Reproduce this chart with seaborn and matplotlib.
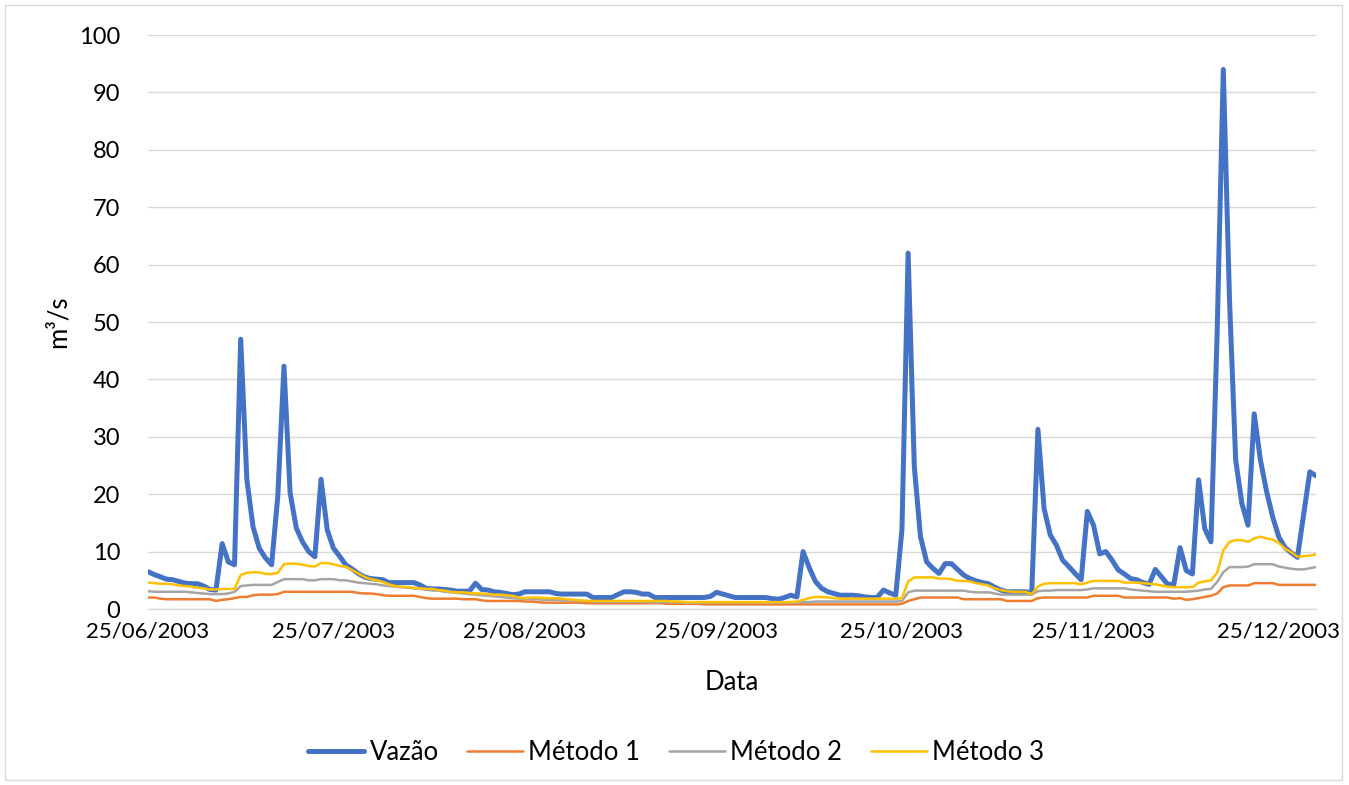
import matplotlib
matplotlib.use('Agg')
import matplotlib.pyplot as plt
import matplotlib.dates as mdates
from matplotlib.patches import Rectangle
from matplotlib.lines import Line2D
import seaborn as sns
import pandas as pd

start_date = '2003-06-25'
end_date = '2003-12-31'

series_names = ['Vazão', 'Método 1', 'Método 2', 'Método 3']

vazao = [
    6.5, 6.0, 5.6, 5.2, 5.1, 4.8, 4.5, 4.4, 4.4, 4.0,
    3.4, 3.3, 11.4, 8.2, 7.7, 47.0, 22.5, 14.3, 10.6, 8.9,
    7.7, 19.6, 42.3, 20.2, 14.1, 11.7, 10.0, 9.1, 22.6, 13.8,
    10.6, 9.2, 7.7, 7.0, 6.2, 5.6, 5.3, 5.2, 5.1, 4.6,
    4.6, 4.6, 4.6, 4.6, 4.2, 3.6, 3.5, 3.5, 3.4, 3.3,
    3.1, 3.1, 3.1, 4.5, 3.4, 3.3, 3.0, 2.9, 2.7, 2.5,
    2.6, 3.0, 3.0, 3.0, 3.0, 3.0, 2.7, 2.6, 2.6, 2.6,
    2.6, 2.6, 2.0, 2.0, 2.0, 2.0, 2.5, 3.0, 3.0, 2.9,
    2.6, 2.6, 2.0, 2.0, 2.0, 2.0, 2.0, 2.0, 2.0, 2.0,
    2.0, 2.2, 2.9, 2.6, 2.3, 2.0, 2.0, 2.0, 2.0, 2.0,
    2.0, 1.8, 1.7, 2.0, 2.4, 2.1, 10.0, 7.2, 4.8, 3.6,
    3.0, 2.7, 2.4, 2.4, 2.4, 2.3, 2.1, 2.0, 2.0, 3.3,
    2.8, 2.4, 13.8, 62.0, 24.8, 12.6, 8.2, 7.1, 6.2, 7.9,
    7.9, 6.9, 5.9, 5.3, 4.9, 4.6, 4.4, 3.8, 3.3, 3.0,
    3.0, 3.0, 3.0, 2.8, 31.3, 17.5, 12.9, 11.1, 8.5, 7.4,
    6.2, 5.1, 17.0, 14.6, 9.6, 10.0, 8.5, 6.8, 6.1, 5.3,
    5.1, 4.6, 4.3, 6.9, 5.6, 4.3, 4.3, 10.7, 6.7, 6.1,
    22.5, 14.0, 11.7, 48.0, 94.0, 54.0, 26.0, 18.4, 14.6, 34.0,
    26.0, 20.5, 16.0, 12.5, 10.7, 9.8, 9.0, 16.4, 23.9, 23.2,
]

metodo1 = [
    2.0, 2.0, 1.8, 1.7, 1.7, 1.7, 1.7, 1.7, 1.7, 1.7,
    1.7, 1.4, 1.6, 1.7, 1.9, 2.1, 2.1, 2.4, 2.5, 2.5,
    2.5, 2.6, 3.0, 3.0, 3.0, 3.0, 3.0, 3.0, 3.0, 3.0,
    3.0, 3.0, 3.0, 3.0, 2.8, 2.7, 2.7, 2.6, 2.4, 2.3,
    2.3, 2.3, 2.3, 2.3, 2.1, 1.9, 1.8, 1.8, 1.8, 1.8,
    1.8, 1.7, 1.7, 1.7, 1.5, 1.4, 1.4, 1.4, 1.4, 1.4,
    1.4, 1.3, 1.3, 1.2, 1.1, 1.1, 1.1, 1.1, 1.1, 1.1,
    1.1, 1.0, 1.0, 1.0, 1.0, 1.0, 1.0, 1.0, 1.0, 1.0,
    1.0, 1.0, 1.0, 1.0, 0.9, 0.9, 0.9, 0.9, 0.9, 0.9,
    0.8, 0.8, 0.8, 0.8, 0.8, 0.8, 0.8, 0.8, 0.8, 0.8,
    0.8, 0.8, 0.8, 0.8, 0.8, 0.8, 0.8, 0.8, 0.8, 0.8,
    0.8, 0.8, 0.8, 0.8, 0.8, 0.8, 0.8, 0.8, 0.8, 0.8,
    0.8, 0.8, 0.9, 1.4, 1.7, 2.0, 2.0, 2.0, 2.0, 2.0,
    2.0, 2.0, 1.7, 1.7, 1.7, 1.7, 1.7, 1.7, 1.7, 1.4,
    1.4, 1.4, 1.4, 1.4, 1.9, 2.0, 2.0, 2.0, 2.0, 2.0,
    2.0, 2.0, 2.0, 2.3, 2.3, 2.3, 2.3, 2.3, 2.0, 2.0,
    2.0, 2.0, 2.0, 2.0, 2.0, 2.0, 1.8, 1.9, 1.6, 1.7,
    1.9, 2.1, 2.3, 2.7, 3.8, 4.1, 4.1, 4.1, 4.1, 4.5,
    4.5, 4.5, 4.5, 4.2, 4.2, 4.2, 4.2, 4.2, 4.2, 4.2,
]

metodo2 = [
    3.1, 3.0, 3.0, 3.0, 3.0, 3.0, 3.0, 2.9, 2.8, 2.7,
    2.6, 2.6, 2.6, 2.7, 3.0, 4.0, 4.1, 4.2, 4.2, 4.2,
    4.2, 4.7, 5.2, 5.2, 5.2, 5.2, 5.0, 5.0, 5.2, 5.2,
    5.2, 5.0, 5.0, 4.8, 4.6, 4.5, 4.4, 4.3, 4.1, 4.0,
    3.9, 3.8, 3.7, 3.6, 3.5, 3.4, 3.3, 3.2, 3.0, 2.9,
    2.8, 2.7, 2.6, 2.5, 2.4, 2.3, 2.2, 2.1, 2.0, 1.9,
    1.8, 1.8, 1.7, 1.7, 1.6, 1.6, 1.6, 1.5, 1.5, 1.5,
    1.4, 1.4, 1.3, 1.3, 1.3, 1.3, 1.3, 1.3, 1.3, 1.3,
    1.3, 1.2, 1.2, 1.2, 1.2, 1.2, 1.2, 1.1, 1.1, 1.1,
    1.1, 1.1, 1.1, 1.1, 1.1, 1.1, 1.1, 1.1, 1.1, 1.1,
    1.1, 1.1, 1.1, 1.1, 1.1, 1.1, 1.2, 1.2, 1.3, 1.3,
    1.3, 1.3, 1.3, 1.3, 1.3, 1.3, 1.3, 1.3, 1.3, 1.3,
    1.3, 1.3, 1.4, 2.9, 3.2, 3.2, 3.2, 3.2, 3.2, 3.2,
    3.2, 3.2, 3.2, 3.0, 2.9, 2.9, 2.9, 2.7, 2.5, 2.5,
    2.5, 2.5, 2.5, 2.5, 3.1, 3.2, 3.2, 3.3, 3.3, 3.3,
    3.3, 3.3, 3.4, 3.6, 3.6, 3.6, 3.6, 3.6, 3.6, 3.4,
    3.3, 3.2, 3.1, 3.0, 3.0, 3.0, 3.0, 3.0, 3.0, 3.1,
    3.2, 3.4, 3.5, 4.7, 6.4, 7.3, 7.3, 7.3, 7.4, 7.8,
    7.8, 7.8, 7.8, 7.4, 7.2, 7.0, 6.9, 6.9, 7.1, 7.3,
]

metodo3 = [
    4.6, 4.5, 4.4, 4.4, 4.3, 4.1, 4.0, 3.9, 3.7, 3.6,
    3.4, 3.4, 3.5, 3.5, 3.5, 5.9, 6.3, 6.4, 6.4, 6.1,
    6.1, 6.3, 7.8, 7.9, 7.9, 7.7, 7.5, 7.4, 8.0, 8.0,
    7.8, 7.5, 7.4, 6.8, 6.2, 5.6, 5.2, 5.0, 4.7, 4.3,
    4.0, 3.9, 3.8, 3.7, 3.6, 3.5, 3.5, 3.3, 3.2, 3.0,
    2.9, 2.9, 2.8, 2.7, 2.7, 2.6, 2.5, 2.5, 2.4, 2.3,
    2.0, 1.9, 2.0, 2.0, 1.9, 1.9, 1.9, 1.8, 1.7, 1.6,
    1.5, 1.4, 1.4, 1.4, 1.4, 1.4, 1.4, 1.4, 1.4, 1.4,
    1.4, 1.4, 1.4, 1.4, 1.4, 1.3, 1.3, 1.2, 1.2, 1.2,
    1.2, 1.2, 1.2, 1.2, 1.2, 1.2, 1.2, 1.2, 1.2, 1.2,
    1.2, 1.2, 1.2, 1.2, 1.2, 1.3, 1.6, 1.9, 2.1, 2.1,
    2.0, 1.9, 1.8, 1.8, 1.8, 1.8, 1.8, 1.8, 1.8, 1.8,
    1.8, 1.8, 1.9, 4.8, 5.5, 5.5, 5.5, 5.5, 5.3, 5.3,
    5.2, 4.9, 4.9, 4.8, 4.5, 4.3, 4.1, 3.6, 3.3, 3.1,
    3.0, 3.0, 3.0, 2.6, 3.9, 4.4, 4.5, 4.5, 4.5, 4.5,
    4.5, 4.3, 4.6, 4.9, 4.9, 4.9, 4.9, 4.9, 4.6, 4.6,
    4.6, 4.5, 4.4, 4.3, 4.1, 3.9, 3.8, 3.8, 3.8, 3.8,
    4.6, 4.8, 5.0, 6.3, 10.2, 11.7, 12.0, 12.0, 11.7, 12.3,
    12.6, 12.3, 12.1, 11.5, 10.5, 9.9, 9.1, 9.2, 9.3, 9.5,
]

tick_dates = ['2003-06-25', '2003-07-25', '2003-08-25', '2003-09-25',
              '2003-10-25', '2003-11-25', '2003-12-25']
y_ticks = [0, 10, 20, 30, 40, 50, 60, 70, 80, 90, 100]

dates = pd.date_range(start_date, end_date, freq='D')
df = pd.DataFrame({'Data': dates, 'Vazão': vazao, 'Método 1': metodo1,
                   'Método 2': metodo2, 'Método 3': metodo3})

sns.set_theme(style='white')
plt.rcParams['font.family'] = ['Lato', 'DejaVu Sans']
plt.rcParams['text.color'] = 'black'

W, H = 1349, 785
fig = plt.figure(figsize=(W / 100, H / 100), dpi=100)
fig.patch.set_facecolor('white')
L, R, T, B = 148, 1316, 35, 609
ax = fig.add_axes([L / W, 1 - B / H, (R - L) / W, (B - T) / H])

colors = ['#4472C4', '#ED7D31', '#A5A5A5', '#FFC000']
widths = [3.6, 1.8, 1.8, 1.8]
for name, c, w in zip(series_names, colors, widths):
    sns.lineplot(data=df, x='Data', y=name, ax=ax, color=c, linewidth=w,
                 legend=False, solid_joinstyle='round', solid_capstyle='round')

ax.set_ylim(0, 100)
ax.set_yticks(y_ticks)
ax.set_xlim(dates[0], dates[-1])
ax.set_xticks(pd.to_datetime(tick_dates))
ax.xaxis.set_major_formatter(mdates.DateFormatter('%d/%m/%Y'))

ax.yaxis.grid(True, color='#D9D9D9', linewidth=1.0)
ax.xaxis.grid(False)
ax.set_axisbelow(True)
for s in ['top', 'left', 'right']:
    ax.spines[s].set_visible(False)
ax.spines['bottom'].set_color('#D9D9D9')
ax.spines['bottom'].set_linewidth(1.0)

ax.tick_params(axis='y', length=0, labelsize=17, pad=20, labelcolor='black')
ax.tick_params(axis='x', length=0, labelsize=16, pad=9, labelcolor='black')

ax.set_xlabel('Data', fontsize=18.5, color='black', va='center')
ax.xaxis.set_label_coords(0.5, (B - 683) / (B - T))
ax.set_ylabel('m³/s', fontsize=18.5, color='black', va='center')
ax.yaxis.set_label_coords((58 - L) / (R - L), 0.5)

handles = [Line2D([0], [0], color=c, lw=w, solid_capstyle='round')
           for c, w in zip(colors, widths)]
fig.legend(handles, series_names, loc='center', bbox_to_anchor=(676 / W, 1 - 752 / H),
           ncol=4, frameon=False, fontsize=18.5, handlelength=2.2,
           handletextpad=0.2, columnspacing=1.1)

fig.add_artist(Rectangle((5 / W, 5 / H), (1342 - 5) / W, (780 - 5) / H,
                         transform=fig.transFigure, fill=False,
                         edgecolor='#D9D9D9', linewidth=1.0))

fig.savefig('out.png', dpi=100, facecolor='white')
